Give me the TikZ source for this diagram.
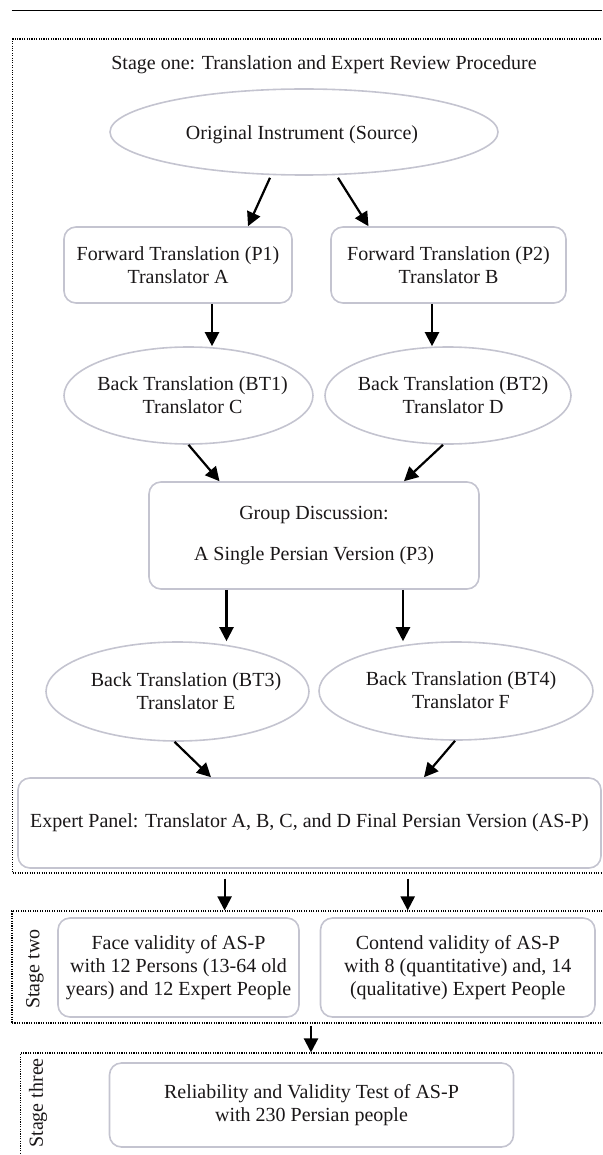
\documentclass[tikz,border=0pt]{standalone}
\usepackage{fontspec}
\setmainfont{Liberation Serif}
\usetikzlibrary{shapes.geometric,arrows.meta}
\definecolor{edge}{HTML}{C4C4D0}
\definecolor{ink}{HTML}{1A1718}
\tikzset{
 base/.style={font=\fontsize{20}{23}\selectfont, text=ink},
 box/.style={base, draw=edge, line width=1.6pt, rounded corners=12pt, align=center, inner sep=0pt},
 oval/.style={draw=edge, line width=1.6pt, ellipse, inner sep=0pt},
 txt/.style={base, align=center, inner sep=0pt},
 arr/.style={draw=black, line width=2.2pt, -{Triangle[length=14pt,width=14pt]}},
 stagebox/.style={draw=black, line width=1.1pt, dash pattern=on 1.1pt off 1.3pt, inner sep=0pt},
}
\begin{document}
\begin{tikzpicture}[x=1pt,y=-1pt]
\useasboundingbox (0,0) rectangle (602,1155);
\clip (0,0) rectangle (602,1155);
% top rule
\draw[line width=1pt] (11.5,11) -- (602,11);
% stage frames
\node[stagebox, minimum width=627.3pt, minimum height=834pt] (s1) at (326.35,456) {};
\node[stagebox, minimum width=628pt, minimum height=112pt] (s2) at (326,967) {};
\node[stagebox, minimum width=619.5pt, minimum height=147pt] (s3) at (330.25,1126.5) {};
% stage labels
\node[base] (st1) at (324,65) {Stage one: Translation and Expert Review Procedure};
\node[base, rotate=90, inner sep=0pt] (st2) at (35,969) {Stage two};
\node[base, rotate=90, anchor=east, inner sep=0pt] (st3) at (38,1058) {Stage three};
% stage one
\node[oval, minimum width=388pt, minimum height=86pt] (src) at (304,132) {};
\node[txt] (srct) at (302,135) {Original Instrument (Source)};
\node[box, minimum width=228pt, minimum height=76pt] (p1) at (178,265) {Forward Translation (P1)\\Translator A};
\node[box, minimum width=235pt, minimum height=76pt] (p2) at (448.5,265) {Forward Translation (P2)\\Translator B};
\node[oval, minimum width=249pt, minimum height=97pt] (bt1) at (188.5,395.5) {};
\node[txt] (bt1t) at (192.5,395) {Back Translation (BT1)\\Translator C};
\node[oval, minimum width=246pt, minimum height=97pt] (bt2) at (448,395.5) {};
\node[txt] (bt2t) at (453,395) {Back Translation (BT2)\\Translator D};
\node[box, minimum width=330pt, minimum height=107pt] (grp) at (314,535.5) {Group Discussion:\\[18pt]A Single Persian Version (P3)};
\node[oval, minimum width=263pt, minimum height=99pt] (bt3) at (177.5,691.5) {};
\node[txt] (bt3t) at (186,691.5) {Back Translation (BT3)\\Translator E};
\node[oval, minimum width=274pt, minimum height=98pt] (bt4) at (456,691) {};
\node[txt] (bt4t) at (461,690.5) {Back Translation (BT4)\\Translator F};
\node[box, minimum width=583pt, minimum height=90pt] (exp) at (309.5,823) {Expert Panel: Translator A, B, C, and D Final Persian Version (AS-P)};
% stage two
\node[box, minimum width=241pt, minimum height=99pt] (face) at (178.5,967.5) {Face validity of AS-P\\with 12 Persons (13-64 old\\years) and 12 Expert People};
\node[box, minimum width=274.5pt, minimum height=99pt] (cont) at (457.75,967.5) {Contend validity of AS-P\\with 8 (quantitative) and, 14\\(qualitative) Expert People};
% stage three
\node[box, minimum width=404pt, minimum height=84pt] (rel) at (311.5,1105) {Reliability and Validity Test of AS-P\\with 230 Persian people};
% connectors
\draw[arr] ([xshift=-34pt,yshift=-2pt]src.south) -- ([xshift=70pt]p1.north);
\draw[arr] ([xshift=34pt,yshift=-2pt]src.south) -- ([xshift=-80pt]p2.north);
\draw[arr] ([xshift=34pt]p1.south) -- ([xshift=34pt]p1.south |- bt1.north);
\draw[arr] ([xshift=-16.5pt]p2.south) -- ([xshift=-16.5pt]p2.south |- bt2.north);
\draw[arr] (bt1.south) -- ([xshift=-94.5pt]grp.north);
\draw[arr] ([xshift=-5pt]bt2.south) -- ([xshift=90pt]grp.north);
\draw[arr] ([xshift=-87.5pt]grp.south) -- ([xshift=-87.5pt]grp.south |- bt3.north);
\draw[arr] ([xshift=89pt]grp.south) -- ([xshift=89pt]grp.south |- bt4.north);
\draw[arr] ([xshift=-3pt]bt3.south) -- ([xshift=-98.5pt]exp.north);
\draw[arr] ([xshift=-1pt]bt4.south) -- ([xshift=114.5pt]exp.north);
\draw[arr] ([xshift=-101.75pt,yshift=-5pt]s1.south) -- ([xshift=-101.75pt]s1.south |- s2.north);
\draw[arr] ([xshift=81.35pt,yshift=-5pt]s1.south) -- ([xshift=81.35pt]s1.south |- s2.north);
\draw[arr] ([xshift=-15pt,yshift=-2pt]s2.south) -- ([xshift=-15pt]s2.south |- s3.north);
\end{tikzpicture}
\end{document}
